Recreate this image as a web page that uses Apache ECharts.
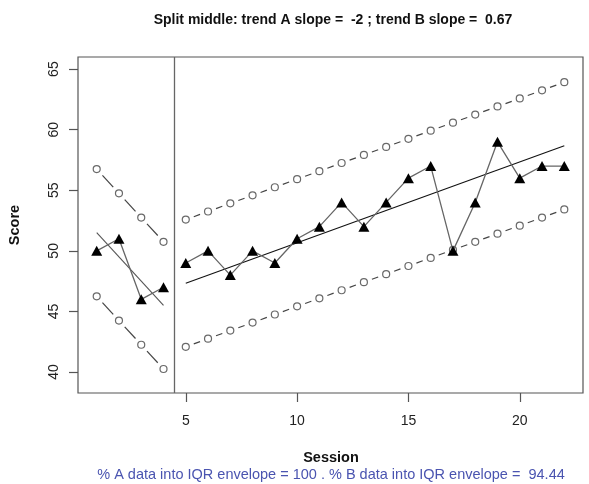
<!DOCTYPE html>
<html>
<head>
<meta charset="utf-8">
<title>Split middle trend</title>
<script src="https://cdn.jsdelivr.net/npm/echarts@6/dist/echarts.min.js"></script>
<style>
  html, body { margin: 0; padding: 0; background: #fff; }
  #chart { width: 589px; height: 484px; }
</style>
</head>
<body>
<div id="chart"></div>
<script>
// Phase A (baseline) and phase B (intervention) sessions and scores
const sessionsA = [1, 2, 3, 4];
const scoresA = [50, 51, 46, 47];
const sessionsB = [5, 6, 7, 8, 9, 10, 11, 12, 13, 14, 15, 16, 17, 18, 19, 20, 21, 22];
const scoresB = [49, 50, 48, 50, 49, 51, 52, 54, 52, 54, 56, 57, 50, 54, 59, 56, 57, 57];

// Split-middle trend lines (end points)
const trendAx = [1, 4];
const trendAy = [51.5, 45.5];
const trendBx = [5, 22];
const trendBy = [47.33, 58.67];

// IQR envelopes around each trend
const envUpperA = [56.75, 54.75, 52.75, 50.75];
const envLowerA = [46.25, 44.25, 42.25, 40.25];
const envUpperB = [52.58, 53.25, 53.92, 54.58, 55.25, 55.92, 56.58, 57.25, 57.92,
                   58.58, 59.25, 59.92, 60.58, 61.25, 61.92, 62.58, 63.25, 63.92];
const envLowerB = [42.08, 42.75, 43.42, 44.08, 44.75, 45.42, 46.08, 46.75, 47.42,
                   48.08, 48.75, 49.42, 50.08, 50.75, 51.42, 52.08, 52.75, 53.42];

const phaseChange = 4.5;
const xTicks = [5, 10, 15, 20];
const yTicks = [40, 45, 50, 55, 60, 65];

const titleText = 'Split middle: trend A slope =  -2 ; trend B slope =  0.67';
const subText = '% A data into IQR envelope = 100 . % B data into IQR envelope =  94.44';

const FONT = '"Liberation Sans", Arial, Helvetica, sans-serif';

function pairs(xs, ys) {
  return xs.map((x, i) => [x, ys[i]]);
}
function segments(xs, ys) {
  const out = [];
  for (let i = 0; i < xs.length - 1; i++) out.push([xs[i], ys[i], xs[i + 1], ys[i + 1]]);
  return out;
}

// dashed connectors that stop short of each open circle
function envelopeSegments(name, xs, ys) {
  return {
    name: name,
    type: 'custom',
    z: 2,
    silent: true,
    encode: { x: [0, 2], y: [1, 3] },
    data: segments(xs, ys),
    renderItem: function (params, api) {
      const a = api.coord([api.value(0), api.value(1)]);
      const b = api.coord([api.value(2), api.value(3)]);
      const dx = b[0] - a[0], dy = b[1] - a[1];
      const len = Math.sqrt(dx * dx + dy * dy);
      const gap = 8.5;
      if (len <= 2 * gap) return null;
      const ux = dx / len, uy = dy / len;
      return {
        type: 'line',
        shape: { x1: a[0] + ux * gap, y1: a[1] + uy * gap, x2: b[0] - ux * gap, y2: b[1] - uy * gap },
        style: { stroke: '#444', lineWidth: 1.2 }
      };
    }
  };
}
function envelopeCircles(name, xs, ys) {
  return {
    name: name,
    type: 'scatter',
    z: 3,
    silent: true,
    symbol: 'circle',
    symbolSize: 7,
    itemStyle: { color: '#fff', borderColor: '#444', borderWidth: 1.2 },
    data: pairs(xs, ys)
  };
}
function dataLine(name, xs, ys) {
  return {
    name: name,
    type: 'line',
    z: 5,
    silent: true,
    symbol: 'triangle',
    symbolSize: [11, 10],
    itemStyle: { color: '#000' },
    lineStyle: { color: '#666', width: 1.3 },
    data: pairs(xs, ys)
  };
}
function trendLine(name, xs, ys, color) {
  return {
    name: name,
    type: 'line',
    z: 4,
    silent: true,
    symbol: 'none',
    lineStyle: { color: color, width: 1.1 },
    data: pairs(xs, ys)
  };
}

const chart = echarts.init(document.getElementById('chart'), null, { renderer: 'canvas' });

const GRID = { left: 78, right: 6, top: 57, bottom: 91 };

chart.setOption({
  animation: false,
  backgroundColor: '#fff',
  grid: Object.assign({ show: true, borderColor: '#555', borderWidth: 1.2, backgroundColor: 'transparent' }, GRID),
  xAxis: {
    type: 'value',
    min: 0.16,
    max: 22.84,
    axisLine: { show: false, onZero: false },
    splitLine: { show: false },
    axisTick: { show: true, length: 9, customValues: xTicks, lineStyle: { color: '#555', width: 1.2 } },
    axisLabel: { customValues: xTicks, color: '#222', fontFamily: FONT, fontSize: 14, margin: 21 }
  },
  yAxis: {
    type: 'value',
    min: 38.27,
    max: 66,
    axisLine: { show: false, onZero: false },
    splitLine: { show: false },
    axisTick: { show: true, length: 9, customValues: yTicks, lineStyle: { color: '#555', width: 1.2 } },
    axisLabel: { customValues: yTicks, rotate: 90, color: '#222', fontFamily: FONT, fontSize: 14, margin: 17 }
  },
  graphic: [
    { type: 'text', x: 333, y: 20, style: { text: titleText, font: 'bold 14px ' + FONT, fill: '#111', align: 'center', verticalAlign: 'middle' } },
    { type: 'text', x: 331, y: 458, style: { text: 'Session', font: 'bold 14.5px ' + FONT, fill: '#111', align: 'center', verticalAlign: 'middle' } },
    { type: 'text', x: 331, y: 475, style: { text: subText, font: '14.5px ' + FONT, fill: '#4a54b0', align: 'center', verticalAlign: 'middle' } },
    { type: 'text', x: 15, y: 225, rotation: Math.PI / 2, style: { text: 'Score', font: 'bold 14.5px ' + FONT, fill: '#111', align: 'center', verticalAlign: 'middle' } }
  ],
  series: [
    envelopeSegments('A upper', sessionsA, envUpperA),
    envelopeSegments('A lower', sessionsA, envLowerA),
    envelopeSegments('B upper', sessionsB, envUpperB),
    envelopeSegments('B lower', sessionsB, envLowerB),
    envelopeCircles('A upper pts', sessionsA, envUpperA),
    envelopeCircles('A lower pts', sessionsA, envLowerA),
    envelopeCircles('B upper pts', sessionsB, envUpperB),
    envelopeCircles('B lower pts', sessionsB, envLowerB),
    trendLine('Trend A', trendAx, trendAy, '#555'),
    trendLine('Trend B', trendBx, trendBy, '#111'),
    Object.assign(dataLine('Phase A', sessionsA, scoresA), {
      markLine: {
        silent: true,
        symbol: 'none',
        label: { show: false },
        lineStyle: { color: '#666', type: 'solid', width: 1.3 },
        data: [{ xAxis: phaseChange }]
      }
    }),
    dataLine('Phase B', sessionsB, scoresB)
  ]
});
</script>
</body>
</html>
